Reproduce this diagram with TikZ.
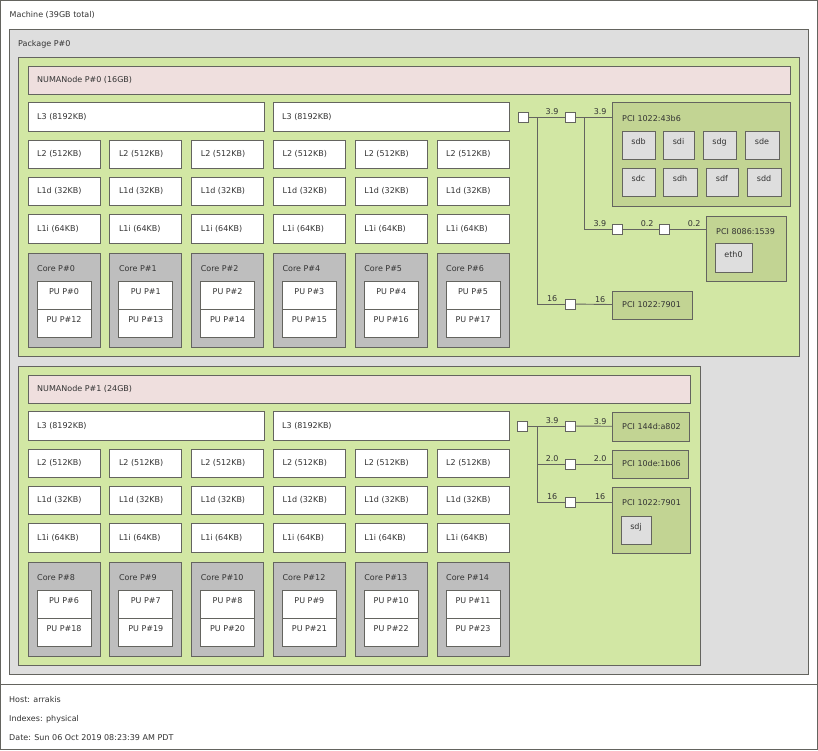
\documentclass[tikz,border=0pt]{standalone}
\usepackage{fontspec}
\setmainfont{DejaVu Sans}
\usepackage{tikz}
\usetikzlibrary{fit, positioning}
\definecolor{edgegray}{RGB}{100,100,95}
\definecolor{pkggray}{HTML}{DEDEDE}
\definecolor{numagreen}{HTML}{D2E7A4}
\definecolor{mempink}{HTML}{EFDFDE}
\definecolor{coregray}{HTML}{BEBEBE}
\definecolor{pcigreen}{RGB}{194,212,147}
\definecolor{osgray}{HTML}{DEDEDE}

\begin{document}
\begin{tikzpicture}[x=1pt, y=-1pt, font=\fontsize{8}{9.5}\selectfont, text=black!80,
  hw/.style={draw=edgegray, line width=0.9pt, inner sep=0pt, outer sep=0pt},
  tl/.style={anchor=west, inner sep=0pt, xshift=9pt, yshift=-15.5pt},
  cl/.style={anchor=west, inner sep=0pt, xshift=9pt},
  bridge/.style={hw, fill=white, minimum size=10pt},
  link/.style={draw=edgegray, line width=0.9pt},
  lnk/.style={anchor=south, inner sep=1.5pt}]

\useasboundingbox (0,0) rectangle (818,750);

% machine, package, legend
\node[hw, fill=white, fit={(0.5,0.5) (817.5,684)}, label={[tl, yshift=1pt]north west:Machine (39GB total)}] (machine) {};
\node[hw, fill=white, fit={(0.5,684) (817.5,749.5)}] (legend) {};
\node[hw, fill=pkggray, fit={(9,29) (808,674)}, label={[tl]north west:Package P\#0}] (pkg) {};

\node[anchor=west, inner sep=0pt] (host) at (9,700) {Host: arrakis};
\node[anchor=west, inner sep=0pt] (idx) at (9,719) {Indexes: physical};
\node[anchor=west, inner sep=0pt] (date) at (9,738) {Date: Sun 06 Oct 2019 08:23:39 AM PDT};

% numa nodes
\node[hw, fill=numagreen, fit={(18,57) (799,356)}] (numa0) {};
\node[hw, fill=numagreen, fit={(18,366) (700,665)}] (numa1) {};
\node[hw, fill=mempink, fit={(28,66) (790,94)}, label={[cl]west:NUMANode P\#0 (16GB)}] (mem0) {};
\node[hw, fill=mempink, fit={(28,375) (690,403)}, label={[cl]west:NUMANode P\#1 (24GB)}] (mem1) {};

% caches
\foreach \n/\dy in {0/0, 1/309} {
  \node[hw, fill=white, fit={(28,102+\dy) (264,131+\dy)}, label={[cl]west:L3 (8192KB)}] (l3a\n) {};
  \node[hw, fill=white, fit={(273,102+\dy) (509,131+\dy)}, label={[cl]west:L3 (8192KB)}] (l3b\n) {};
  \foreach \i in {0,...,5} {
    \pgfmathsetmacro{\xa}{28+81.8*\i}
    \pgfmathsetmacro{\xb}{\xa+72}
    \node[hw, fill=white, fit={(\xa,140+\dy) (\xb,168+\dy)}, label={[cl]west:L2 (512KB)}] (l2\n\i) {};
    \node[hw, fill=white, fit={(\xa,177+\dy) (\xb,205+\dy)}, label={[cl]west:L1d (32KB)}] (l1d\n\i) {};
    \node[hw, fill=white, fit={(\xa,214+\dy) (\xb,243+\dy)}, label={[cl]west:L1i (64KB)}] (l1i\n\i) {};
  }
}

% cores and PUs
\foreach \dy/\i/\c/\p/\q in {0/0/0/0/12, 0/1/1/1/13, 0/2/2/2/14, 0/3/4/3/15, 0/4/5/4/16, 0/5/6/5/17,
    309/0/8/6/18, 309/1/9/7/19, 309/2/10/8/20, 309/3/12/9/21, 309/4/13/10/22, 309/5/14/11/23} {
  \pgfmathsetmacro{\xa}{28+81.8*\i}
  \node[hw, fill=coregray, fit={(\xa,253+\dy) (\xa+72,347+\dy)}, label={[tl]north west:Core P\#\c}] (core\c) {};
  \node[hw, fill=white, fit={(\xa+9,281+\dy) (\xa+63,309+\dy)}] (pu\p) {PU P\#\p};
  \node[hw, fill=white, fit={(\xa+9,309+\dy) (\xa+63,337+\dy)}] (pu\q) {PU P\#\q};
}

% I/O of NUMANode 0
\node[bridge] (hb0) at (523,117) {};
\node[bridge] (br0) at (570,117) {};
\node[bridge] (br1) at (570,304) {};
\node[bridge] (br2) at (617,229) {};
\node[bridge] (br3) at (664,229) {};
\coordinate (j0) at (537,117);
\coordinate (j1) at (584,117);

\node[hw, fill=pcigreen, fit={(612,102) (790,206)}, label={[tl, xshift=1pt, yshift=-1pt]north west:PCI 1022:43b6}] (pci43b6) {};
\foreach \d/\xa/\xb/\ya/\yb in {sdb/622/655/131/159, sdi/663/694/131/159, sdg/703/736/131/159, sde/745/779/131/159,
    sdc/622/655/168/196, sdh/663/697/168/196, sdf/706/738/168/196, sdd/747/781/168/196} {
  \node[hw, fill=osgray, fit={(\xa,\ya) (\xb,\yb)}] (\d) {\d};
}
\node[hw, fill=pcigreen, fit={(706,216) (786,281)}, label={[tl, xshift=1pt]north west:PCI 8086:1539}] (pci1539) {};
\node[hw, fill=osgray, fit={(715,243) (752,272)}] (eth0) {eth0};
\node[hw, fill=pcigreen, fit={(612,291) (692,319)}, label={[cl, xshift=1pt]west:PCI 1022:7901}] (pci7901a) {};

\draw[link] (hb0) -- node[lnk, pos=.65] (w1) {3.9} (br0);
\draw[link] (br0) -- node[lnk, pos=.68] (w2) {3.9} (br0 -| pci43b6.west);
\draw[link] (j1) |- node[lnk, pos=.785] (w3) {3.9} (br2);
\draw[link] (br2) -- node[lnk, pos=.68] (w4) {0.2} (br3);
\draw[link] (br3) -- node[lnk, pos=.68] (w5) {0.2} (br3 -| pci1539.west);
\draw[link] (j0) |- node[lnk, pos=.77] (w6) {16} (br1);
\draw[link] (br1) -- node[lnk, pos=.68] (w7) {16} (pci7901a);

% I/O of NUMANode 1
\node[bridge] (hb1) at (522,426) {};
\node[bridge] (br4) at (570,426) {};
\node[bridge] (br5) at (570,464) {};
\node[bridge] (br6) at (570,502) {};
\coordinate (j2) at (537,426);

\node[hw, fill=pcigreen, fit={(612,412) (689,441)}, label={[cl, xshift=1pt]west:PCI 144d:a802}] (pcia802) {};
\node[hw, fill=pcigreen, fit={(612,450) (688,478)}, label={[cl, xshift=1pt]west:PCI 10de:1b06}] (pci1b06) {};
\node[hw, fill=pcigreen, fit={(612,487) (690,553)}, label={[tl, xshift=1pt]north west:PCI 1022:7901}] (pci7901b) {};
\node[hw, fill=osgray, fit={(621,516) (651,544)}] (sdj) {sdj};

\draw[link] (hb1) -- (br4);
\draw[link] (j2) -- node[lnk, pos=.54] (w8) {3.9} (br4);
\draw[link] (br4) -- node[lnk, pos=.68] (w9) {3.9} (pcia802);
\draw[link] (j2) |- node[lnk, pos=.77] (w10) {2.0} (br5);
\draw[link] (br5) -- node[lnk, pos=.68] (w11) {2.0} (pci1b06);
\draw[link] (j2) |- node[lnk, pos=.77] (w12) {16} (br6);
\draw[link] (br6) -- node[lnk, pos=.68] (w13) {16} (br6 -| pci7901b.west);

\end{tikzpicture}
\end{document}
